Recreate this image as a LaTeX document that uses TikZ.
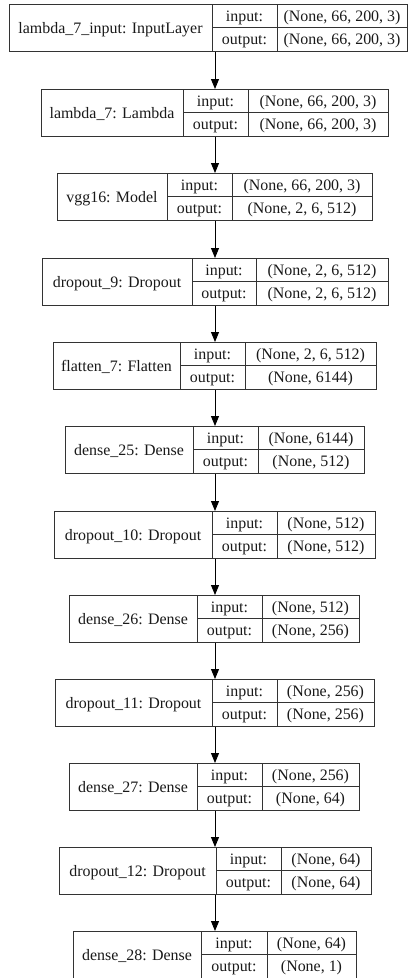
\documentclass[tikz,border=0pt]{standalone}
\usepackage{fontspec}
\setmainfont{Liberation Serif}
\usetikzlibrary{arrows.meta}
\tikzset{
  ln/.style={draw=black!80, line width=1bp},
  box/.style={ln, rectangle, inner sep=0pt, anchor=north west},
  txt/.style={inner sep=0pt, text height=11bp, text depth=0bp, font=\fontsize{16}{19}\selectfont, text=black!90},
  arr/.style={ln, -{Triangle[length=10bp,width=8bp]}, black}
}
% #1 name, #2 left, #3 divider1, #4 divider2, #5 right, #6 top, #7 label, #8 input shape, #9 output shape
\newcommand\kerlayer[9]{%
  \node[box, minimum width={#5bp-#2bp}, minimum height=47bp] (#1) at (#2,#6) {};
  \draw[ln] (#3,#6) -- (#3,{#6+47});
  \draw[ln] (#4,#6) -- (#4,{#6+47});
  \draw[ln] (#3,{#6+23.5}) -- (#5,{#6+23.5});
  \node[txt] (#1-lab) at ({(#2+#3)/2},{#6+23.5}) {#7};
  \node[txt] (#1-i) at ({(#3+#4)/2},{#6+11.75}) {input:};
  \node[txt] (#1-o) at ({(#3+#4)/2},{#6+35.25}) {output:};
  \node[txt] (#1-iv) at ({(#4+#5)/2},{#6+11.75}) {#8};
  \node[txt] (#1-ov) at ({(#4+#5)/2},{#6+35.25}) {#9};
}
\begin{document}
\begin{tikzpicture}[x=1bp, y=-1bp]
\useasboundingbox[fill=white] (0,0) rectangle (409,978);
\kerlayer{b1}{9}{212}{277}{407}{4}{lambda\_7\_input: InputLayer}{(None, 66, 200, 3)}{(None, 66, 200, 3)}
\kerlayer{b2}{41}{183}{248}{388}{89}{lambda\_7: Lambda}{(None, 66, 200, 3)}{(None, 66, 200, 3)}
\kerlayer{b3}{57}{167}{232}{372}{173}{vgg16: Model}{(None, 66, 200, 3)}{(None, 2, 6, 512)}
\kerlayer{b4}{42}{192}{256}{388}{258}{dropout\_9: Dropout}{(None, 2, 6, 512)}{(None, 2, 6, 512)}
\kerlayer{b5}{53}{180}{245}{376}{342}{flatten\_7: Flatten}{(None, 2, 6, 512)}{(None, 6144)}
\kerlayer{b6}{65}{193}{258}{364}{426}{dense\_25: Dense}{(None, 6144)}{(None, 512)}
\kerlayer{b7}{54}{212}{277}{375}{511}{dropout\_10: Dropout}{(None, 512)}{(None, 512)}
\kerlayer{b8}{69}{197}{262}{359}{595}{dense\_26: Dense}{(None, 512)}{(None, 256)}
\kerlayer{b9}{55}{212}{277}{374}{679}{dropout\_11: Dropout}{(None, 256)}{(None, 256)}
\kerlayer{b10}{69}{197}{262}{359}{763}{dense\_27: Dense}{(None, 256)}{(None, 64)}
\kerlayer{b11}{59}{216}{281}{371}{847}{dropout\_12: Dropout}{(None, 64)}{(None, 64)}
\kerlayer{b12}{73}{201}{267}{356}{931}{dense\_28: Dense}{(None, 64)}{(None, 1)}
\coordinate (ax) at (215,0);
\foreach \a/\b in {b1/b2,b2/b3,b3/b4,b4/b5,b5/b6,b6/b7,b7/b8,b8/b9,b9/b10,b10/b11,b11/b12}
  \draw[arr] (\a.south -| ax) -- (\b.north -| ax);
\end{tikzpicture}
\end{document}
